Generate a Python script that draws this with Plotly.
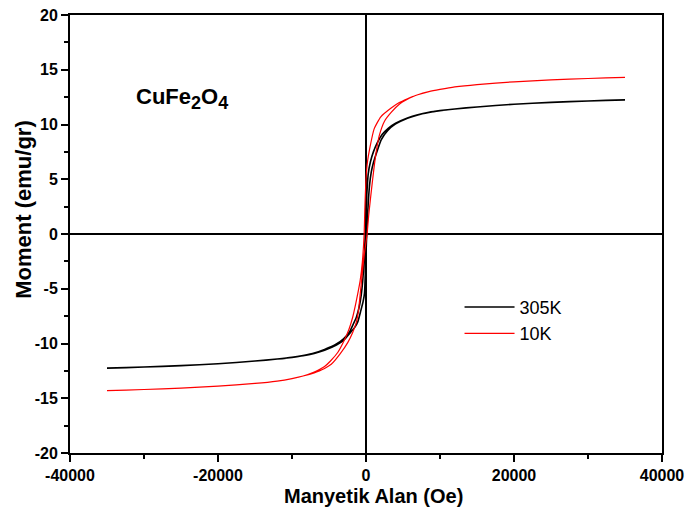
import plotly.graph_objects as go

# M-H hysteresis of CuFe2O4: field in Oe, moment in emu/gr.
# Each loop is stored as its descending branch (+H -> -H) and ascending branch (-H -> +H).

h_305_down = [35000, 30000, 25000, 20000, 15000, 12000, 10000, 8500, 7000, 5600, 4000, 3000,
              2200, 1500, 1000, 600, 300, 100, 0, -100, -250, -450, -650, -900, -1300, -1700,
              -2230, -3000, -4000, -5600, -7000, -8500, -10000, -12000, -15000, -20000,
              -25000, -30000, -35000]
m_305_down = [12.25, 12.15, 12.02, 11.85, 11.6, 11.42, 11.27, 11.12, 10.9, 10.6, 10.12, 9.65,
              9.1, 8.3, 7.5, 6.6, 5.5, 3.5, 2.0, 0.0, -2.5, -4.3, -5.6, -6.6, -7.6, -8.2,
              -8.95, -9.55, -10.05, -10.55, -10.88, -11.1, -11.27, -11.42, -11.6, -11.85,
              -12.02, -12.15, -12.25]

h_305_up = [-35000, -30000, -25000, -20000, -15000, -12000, -10000, -8500, -7000, -5600, -4000,
            -3000, -2230, -1500, -1100, -700, -400, -200, -100, 0, 100, 250, 470, 700, 1000,
            1370, 2050, 2940, 4000, 5600, 7000, 8500, 10000, 12000, 15000, 20000, 25000,
            30000, 35000]
m_305_up = [-12.25, -12.15, -12.02, -11.85, -11.6, -11.42, -11.27, -11.12, -10.9, -10.62,
            -10.15, -9.7, -9.1, -8.5, -8.0, -7.0, -6.2, -5.4, -3.8, -1.8, 0.0, 2.2, 4.4, 5.6,
            6.5, 7.3, 8.6, 9.45, 10.05, 10.58, 10.88, 11.1, 11.27, 11.42, 11.6, 11.85, 12.02,
            12.15, 12.25]

h_10_down = [35000, 30000, 25000, 20000, 15000, 12000, 10000, 8500, 7000, 6300, 5600, 4500,
             3400, 2000, 1100, 500, 200, 0, -150, -250, -500, -800, -1100, -1400, -1800, -2300,
             -3000, -3800, -4800, -5600, -6300, -7000, -8500, -10000, -12000, -15000, -20000,
             -25000, -30000, -35000]
m_10_down = [14.3, 14.2, 14.07, 13.9, 13.65, 13.43, 13.2, 13.0, 12.72, 12.55, 12.35, 12.0,
             11.5, 10.7, 9.6, 7.8, 6.6, 5.0, 2.4, 0.0, -2.6, -4.3, -5.4, -6.4, -7.6, -8.7,
             -9.8, -10.8, -11.6, -12.1, -12.38, -12.6, -12.97, -13.2, -13.43, -13.65, -13.9,
             -14.07, -14.2, -14.3]

h_10_up = [-35000, -30000, -25000, -20000, -15000, -12000, -10000, -8500, -7000, -6300, -5600,
           -4700, -3500, -2450, -1800, -1320, -1000, -800, -500, -200, 150, 350, 600, 900, 1150,
           1400, 1800, 2500, 3400, 4500, 5600, 6300, 7000, 8500, 10000, 12000, 15000, 20000,
           25000, 30000, 35000]
m_10_up = [-14.3, -14.2, -14.07, -13.9, -13.65, -13.43, -13.2, -12.97, -12.68, -12.5, -12.28,
           -11.9, -10.95, -9.9, -9.0, -8.1, -6.9, -5.6, -3.6, -1.7, 0.0, 1.6, 3.2, 5.0, 6.4,
           7.6, 9.0, 10.3, 11.1, 11.85, 12.3, 12.53, 12.72, 13.0, 13.2, 13.43, 13.65, 13.9,
           14.07, 14.2, 14.3]

x_ticks = [-40000, -20000, 0, 20000, 40000]
y_ticks = [-20, -15, -10, -5, 0, 5, 10, 15, 20]

FONT = "Liberation Sans, Arial, sans-serif"

fig = go.Figure()
fig.add_trace(go.Scatter(
    x=h_305_down + h_305_up, y=m_305_down + m_305_up, mode="lines", name="305K",
    line=dict(color="black", width=1.6, shape="spline", smoothing=0.5)))
fig.add_trace(go.Scatter(
    x=h_10_down + h_10_up, y=m_10_down + m_10_up, mode="lines", name="10K",
    line=dict(color="#ff0000", width=1.2, shape="spline", smoothing=0.5)))

axis_common = dict(
    automargin=False,
    showgrid=False, showline=True, linecolor="black", linewidth=2, mirror=True,
    ticks="outside", ticklen=7, tickwidth=1.5, tickcolor="black",
    zeroline=True, zerolinecolor="black", zerolinewidth=2,
    tickfont=dict(family=FONT, size=16, color="black", weight="bold"),
)

fig.update_xaxes(
    range=[-40000, 40000], tickvals=x_ticks, ticktext=[str(v) for v in x_ticks],
    minor=dict(dtick=10000, ticks="outside", ticklen=4, tickwidth=1.5, tickcolor="black"),
    **axis_common)
fig.update_yaxes(
    range=[-20, 20], tickvals=y_ticks, ticktext=[str(v) for v in y_ticks],
    minor=dict(dtick=2.5, ticks="outside", ticklen=4, tickwidth=1.5, tickcolor="black"),
    **axis_common)

# axis titles placed as annotations so they sit where the original layout puts them
fig.add_annotation(
    x=0.5135, y=-0.098, xref="paper", yref="paper", xanchor="center", yanchor="middle",
    text="Manyetik Alan (Oe)", showarrow=False,
    font=dict(family=FONT, size=20, color="black", weight="bold"))
fig.add_annotation(
    x=-0.078, y=0.555, xref="paper", yref="paper", xanchor="center", yanchor="middle",
    text="Moment (emu/gr)", textangle=-90, showarrow=False,
    font=dict(family=FONT, size=22, color="black", weight="bold"))

fig.add_annotation(
    x=-31300, y=12.4, xref="x", yref="y", xanchor="left", yanchor="middle",
    text="CuFe<sub><span style='font-size:18px'>2</span></sub>O<sub><span style='font-size:18px'>4</span></sub>",
    showarrow=False,
    font=dict(family=FONT, size=22, color="black", weight="bold"))

fig.update_layout(
    width=689, height=521,
    margin=dict(l=70, r=27, t=15, b=68, autoexpand=False),
    paper_bgcolor="white", plot_bgcolor="white",
    showlegend=True,
    legend=dict(x=0.658, y=0.375, xanchor="left", yanchor="top",
                itemwidth=50, tracegroupgap=0,
                bgcolor="rgba(0,0,0,0)", borderwidth=0,
                font=dict(family=FONT, size=18, color="black")),
)

fig.write_html("out.html")
